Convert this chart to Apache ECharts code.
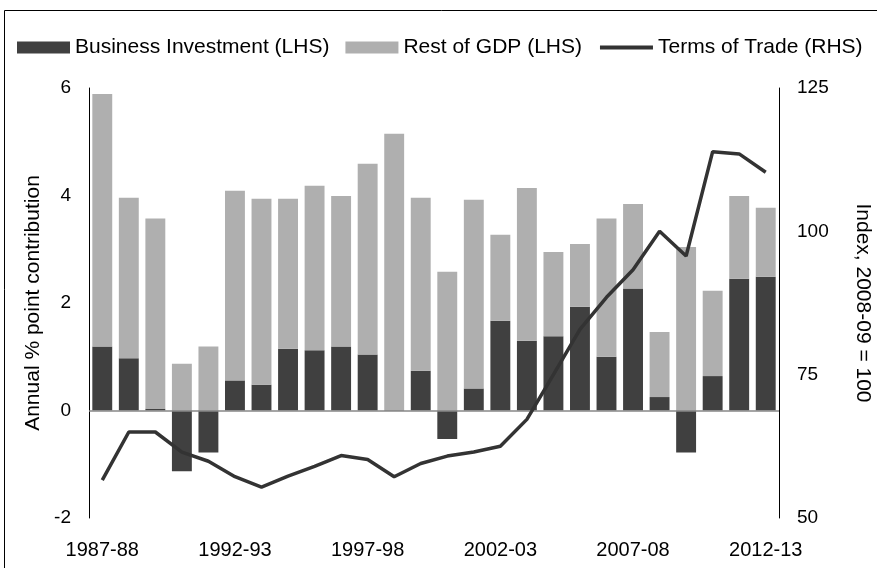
<!DOCTYPE html>
<html>
<head>
<meta charset="utf-8">
<script src="https://cdn.jsdelivr.net/npm/echarts@6/dist/echarts.min.js"></script>
<style>
  html, body { margin: 0; padding: 0; background: #fff; }
  #chart { width: 877px; height: 568px; }
</style>
</head>
<body>
<div id="chart"></div>
<script>
// financial years
const years = ['1987-88','1988-89','1989-90','1990-91','1991-92','1992-93','1993-94','1994-95',
  '1995-96','1996-97','1997-98','1998-99','1999-00','2000-01','2001-02','2002-03','2003-04',
  '2004-05','2005-06','2006-07','2007-08','2008-09','2009-10','2010-11','2011-12','2012-13'];

// annual % point contribution (LHS)
const businessInvestment = [1.19, 0.97, 0.03, -1.13, -0.78, 0.56, 0.48, 1.15, 1.12, 1.19, 1.04, 0.01,
  0.74, -0.53, 0.41, 1.67, 1.30, 1.38, 1.93, 1.00, 2.27, 0.25, -0.78, 0.64, 2.45, 2.49];
const restOfGdp = [4.70, 2.99, 3.54, 0.87, 1.19, 3.53, 3.46, 2.79, 3.06, 2.80, 3.55, 5.14,
  3.22, 2.58, 3.51, 1.60, 2.84, 1.57, 1.17, 2.57, 1.57, 1.21, 3.04, 1.59, 1.54, 1.28];

// index, 2008-09 = 100 (RHS)
const termsOfTrade = [56.6, 65.0, 65.0, 61.5, 59.9, 57.2, 55.4, 57.3, 59.0, 60.9, 60.2, 57.2,
  59.5, 60.8, 61.5, 62.5, 67.2, 75.0, 82.9, 88.5, 93.3, 100.0, 95.7, 113.9, 113.5, 110.3];

const font = "'Liberation Sans', Arial, sans-serif";

const chart = echarts.init(document.getElementById('chart'));
chart.setOption({
  animation: false,
  textStyle: { fontFamily: font, color: '#000' },
  graphic: [{
    type: 'rect',
    shape: { x: 4.5, y: 10.5, width: 900, height: 600 },
    style: { fill: 'none', stroke: '#000', lineWidth: 1 },
    silent: true
  }],
  legend: {
    left: 12,
    top: 32,
    itemWidth: 53,
    itemHeight: 12,
    itemGap: 16,
    textStyle: { fontSize: 21, color: '#000', fontFamily: font },
    data: [
      { name: 'Business Investment (LHS)', icon: 'rect' },
      { name: 'Rest of GDP (LHS)', icon: 'rect' },
      { name: 'Terms of Trade (RHS)', itemStyle: { opacity: 0 }, lineStyle: { width: 4, color: '#333333' } }
    ]
  },
  grid: { left: 89, right: 98, top: 88, bottom: 50, outerBoundsMode: 'none' },
  xAxis: {
    type: 'category',
    data: years,
    axisLine: { show: false, onZero: false },
    axisTick: { show: false },
    axisLabel: { interval: 4, margin: 22, fontSize: 20, color: '#000' }
  },
  yAxis: [{
    type: 'value',
    min: -2, max: 6, interval: 2,
    name: 'Annual % point contribution',
    nameLocation: 'middle',
    nameGap: 40,
    nameTextStyle: { fontSize: 21, color: '#000' },
    axisLine: { show: true, lineStyle: { color: '#000', width: 1 } },
    axisTick: { show: false },
    splitLine: { show: false },
    axisLabel: { margin: 18, fontSize: 19, color: '#000' }
  }, {
    type: 'value',
    min: 50, max: 125, interval: 25,
    name: 'Index, 2008-09 = 100',
    nameLocation: 'middle',
    nameRotate: -90,
    nameGap: 73,
    nameTextStyle: { fontSize: 21, color: '#000' },
    axisLine: { show: true, lineStyle: { color: '#000', width: 1 } },
    axisTick: { show: false },
    splitLine: { show: false },
    axisLabel: { margin: 18, fontSize: 19, color: '#000' }
  }],
  series: [{
    name: 'Business Investment (LHS)',
    type: 'bar',
    stack: 'gdp',
    barCategoryGap: '25%',
    itemStyle: { color: '#404040' },
    data: businessInvestment,
    markLine: {
      silent: true,
      symbol: ['none', 'none'],
      label: { show: false },
      lineStyle: { color: '#878787', width: 1.5, type: 'solid' },
      data: [{ yAxis: 0 }]
    }
  }, {
    name: 'Rest of GDP (LHS)',
    type: 'bar',
    stack: 'gdp',
    itemStyle: { color: '#afafaf' },
    data: restOfGdp
  }, {
    name: 'Terms of Trade (RHS)',
    type: 'line',
    yAxisIndex: 1,
    symbol: 'none',
    z: 5,
    lineStyle: { color: '#333333', width: 3.5 },
    itemStyle: { color: '#333333' },
    data: termsOfTrade
  }]
});
</script>
</body>
</html>
